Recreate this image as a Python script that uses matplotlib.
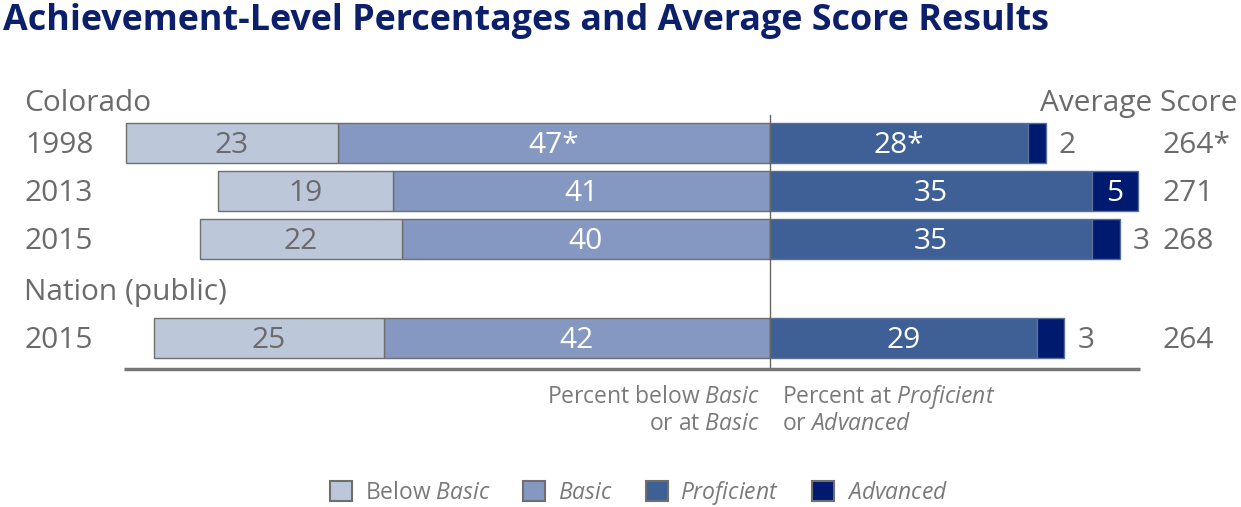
import matplotlib
matplotlib.use("Agg")
import matplotlib.pyplot as plt
from matplotlib.patches import Patch

plt.rcParams['font.family'] = ['Open Sans', 'DejaVu Sans']
plt.rcParams['mathtext.fontset'] = 'custom'
plt.rcParams['mathtext.rm'] = 'Open Sans'
plt.rcParams['mathtext.it'] = 'Open Sans:italic'

# data
years = ['1998', '2013', '2015', '2015']
below_basic = [23, 19, 22, 25]
basic = [47, 41, 40, 42]
proficient = [28, 35, 35, 29]
advanced = [2, 5, 3, 3]
basic_labels = ['47*', '41', '40', '42']
prof_labels = ['28*', '35', '35', '29']
avg_score = ['264*', '271', '268', '264']

c_below = '#bcc7da'
c_basic = '#8598c1'
c_prof = '#3f6096'
c_adv = '#001a70'
grey = '#6b6b6b'
edge = '#6f6f6f'

# layout (pixels)
W, H = 1241, 507
x0 = 770          # zero line
ppu = 9.2         # pixels per percent
row_y = [143, 191, 239, 338]
bar_h = 40
dy = 2.5          # nudge text down a bit

def px(p):
    return (p - x0) / ppu

fig = plt.figure(figsize=(W / 100, H / 100), dpi=100)
ax = fig.add_axes([0, 0, 1, 1])
ax.set_xlim(px(0), px(W))
ax.set_ylim(H, 0)
ax.axis('off')

fs = 21.5
for i, y in enumerate(row_y):
    bb, b, p, a = below_basic[i], basic[i], proficient[i], advanced[i]
    ax.barh(y, -b, height=bar_h, left=0, color=c_basic, edgecolor=edge, lw=1)
    ax.barh(y, -bb, height=bar_h, left=-b, color=c_below, edgecolor=edge, lw=1)
    ax.barh(y, p, height=bar_h, left=0, color=c_prof, edgecolor='#5a6f95', lw=1)
    ax.barh(y, a, height=bar_h, left=p, color=c_adv, edgecolor='#5a6f95', lw=1)
    ty = y + dy
    ax.text(-b - bb / 2, ty, str(bb), ha='center', va='center', color=grey, fontsize=fs)
    ax.text(-b / 2, ty, basic_labels[i], ha='center', va='center', color='white', fontsize=fs)
    ax.text(p / 2, ty, prof_labels[i], ha='center', va='center', color='white', fontsize=fs)
    if a >= 5:
        ax.text(p + a / 2, ty, str(a), ha='center', va='center', color='white', fontsize=fs)
    else:
        ax.text(p + a + 1.4, ty, str(a), ha='left', va='center', color=grey, fontsize=fs)
    ax.text(px(1163), ty, avg_score[i], ha='left', va='center', color=grey, fontsize=fs)
    ax.text(px(25), ty, years[i], ha='left', va='center', color=grey, fontsize=fs)

ax.text(px(24), 101 + dy, 'Colorado', ha='left', va='center', color=grey, fontsize=fs)
ax.text(px(24), 290 + dy, 'Nation (public)', ha='left', va='center', color=grey, fontsize=fs)
ax.text(px(1238), 101 + dy, 'Average Score', ha='right', va='center', color=grey, fontsize=fs)

# zero line and base line
ax.plot([0, 0], [115, 369], color='#666666', lw=1)
ax.plot([px(124), px(1140)], [369, 369], color='#777777', lw=2.5, solid_capstyle='butt')

sfs = 16.5
sc = '#7a7a7a'
ax.text(px(760), 397, r'Percent below $\mathit{Basic}$', ha='right', va='center', color=sc, fontsize=sfs)
ax.text(px(760), 424, r'or at $\mathit{Basic}$', ha='right', va='center', color=sc, fontsize=sfs)
ax.text(px(782), 397, r'Percent at $\mathit{Proficient}$', ha='left', va='center', color=sc, fontsize=sfs)
ax.text(px(782), 424, r'or $\mathit{Advanced}$', ha='left', va='center', color=sc, fontsize=sfs)

fig.text(3 / W, 1 - 21 / H, 'Achievement-Level Percentages and Average Score Results',
         ha='left', va='center', color='#0c1f6b', fontsize=25.8, fontweight='bold')

handles = [Patch(facecolor=c, edgecolor=edge, lw=1.5) for c in [c_below, c_basic, c_prof, c_adv]]
labels = [r'Below $\mathit{Basic}$', r'$\mathit{Basic}$', r'$\mathit{Proficient}$', r'$\mathit{Advanced}$']
leg = fig.legend(handles, labels, loc='center', bbox_to_anchor=(639 / W, 1 - 493 / H), ncol=4,
                 frameon=False, fontsize=sfs, handlelength=0.95, handleheight=0.95,
                 handletextpad=0.55, columnspacing=1.45, labelcolor=sc,
                 borderpad=0.2)

fig.savefig('out.png', dpi=100)
